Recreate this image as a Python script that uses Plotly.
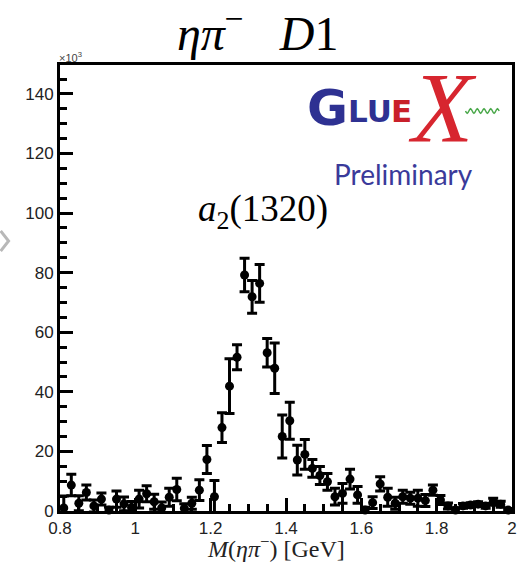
import plotly.graph_objects as go
import math

# ---------------- data ----------------
mass = [0.81, 0.83, 0.85, 0.87, 0.89, 0.91, 0.93, 0.95, 0.97, 0.99,
        1.01, 1.03, 1.05, 1.07, 1.09, 1.11, 1.13, 1.15, 1.17, 1.19,
        1.21, 1.23, 1.25, 1.27, 1.29, 1.31, 1.33, 1.35, 1.37, 1.39,
        1.41, 1.43, 1.45, 1.47, 1.49, 1.51, 1.53, 1.55, 1.57, 1.59,
        1.61, 1.63, 1.65, 1.67, 1.69, 1.71, 1.73, 1.75, 1.77, 1.79,
        1.81, 1.83, 1.85, 1.87, 1.89, 1.91, 1.93, 1.95, 1.97, 1.99]
counts = [1.0, 8.7, 2.6, 6.2, 1.7, 4.0, 0.3, 4.0, 2.4, 1.2,
          4.0, 5.8, 3.1, 1.0, 4.6, 7.2, 0.9, 2.6, 7.0, 17.3,
          4.8, 28.0, 41.9, 51.6, 79.2, 71.9, 76.4, 53.1, 47.9, 25.0,
          30.3, 17.1, 19.0, 14.3, 11.9, 9.8, 4.8, 5.9, 10.7, 5.4,
          0.3, 2.8, 9.1, 4.6, 2.6, 4.8, 4.3, 4.3, 3.5, 7.0,
          3.7, 1.7, 0.3, 1.7, 2.0, 2.3, 1.7, 3.1, 2.3, 0.3]
errors = [4.0, 3.6, 2.5, 2.5, 2.0, 2.0, 1.0, 2.7, 2.3, 2.0,
          3.0, 2.7, 2.5, 2.0, 3.0, 3.8, 1.5, 2.0, 3.5, 4.7,
          5.4, 5.0, 9.2, 4.2, 5.6, 5.5, 6.3, 4.8, 8.5, 7.2,
          6.2, 5.0, 5.0, 3.0, 3.0, 2.8, 2.8, 3.3, 3.3, 2.8,
          1.0, 2.0, 2.4, 3.0, 2.0, 2.2, 2.0, 2.7, 2.0, 1.7,
          1.5, 1.0, 0.8, 0.8, 0.8, 0.8, 0.8, 1.2, 1.0, 0.5]

x_ticks = [0.8, 1.0, 1.2, 1.4, 1.6, 1.8, 2.0]
x_tick_labels = ["0.8", "1", "1.2", "1.4", "1.6", "1.8", "2"]
y_ticks = [0, 20, 40, 60, 80, 100, 120, 140]
y_tick_labels = ["0", "20", "40", "60", "80", "100", "120", "140"]

W, H = 523, 564
L, R, T, B = 60, 6, 65, 53
PW, PH = W - L - R, H - T - B


def px(x):
    return (x - L) / PW


def py(y):
    return (H - B - y) / PH


fig = go.Figure()
fig.add_trace(go.Scatter(
    x=mass, y=counts, mode="markers",
    marker=dict(color="black", size=9),
    error_y=dict(type="data", array=errors, color="black", thickness=3, width=5),
    cliponaxis=False, showlegend=False,
))

tickfont = dict(family="Liberation Sans, Arial, sans-serif", size=17, color="#222")
fig.update_xaxes(
    range=[0.8, 2.0], tickvals=x_ticks, ticktext=x_tick_labels,
    ticks="inside", ticklen=13, tickwidth=2.5, tickcolor="black",
    minor=dict(dtick=0.05, tick0=0.8, ticks="inside", ticklen=7, tickwidth=2.5, tickcolor="black"),
    showline=True, linewidth=3, linecolor="black", mirror=True,
    showgrid=False, zeroline=False, tickfont=tickfont,
)
fig.update_yaxes(
    range=[0, 149.7], tickvals=y_ticks, ticktext=y_tick_labels,
    ticks="inside", ticklen=13, tickwidth=2.5, tickcolor="black",
    minor=dict(dtick=5, tick0=0, ticks="inside", ticklen=7, tickwidth=2.5, tickcolor="black"),
    showline=True, linewidth=3, linecolor="black", mirror=True,
    showgrid=False, zeroline=False, tickfont=tickfont,
)

annotations = [
    dict(text="<i>M</i>(<i>ηπ</i><sup>−</sup>) [GeV]", xref="paper", yref="paper",
         x=px(278), y=py(564), showarrow=False, xanchor="center", yanchor="bottom",
         font=dict(family="Liberation Serif, serif", size=24, color="#222")),
    dict(text="<i>ηπ</i><sup>−</sup>   <i>D</i>1", xref="paper", yref="paper",
         x=px(260), y=py(30), showarrow=False, xanchor="center", yanchor="middle",
         font=dict(family="Liberation Serif, serif", size=48, color="black")),
    dict(text="×10<sup>3</sup>", xref="paper", yref="paper",
         x=px(57), y=py(57), showarrow=False, xanchor="left", yanchor="middle",
         font=dict(family="Liberation Sans, Arial, sans-serif", size=11, color="#444")),
    dict(text="<i>a</i><sub>2</sub>(1320)", xref="paper", yref="paper",
         x=px(265), y=py(212), showarrow=False, xanchor="center", yanchor="middle",
         font=dict(family="Liberation Serif, serif", size=37, color="black")),
    # GlueX logo approximation
    dict(text="<b>G</b>", xref="paper", yref="paper",
         x=px(330), y=py(108), showarrow=False, xanchor="center", yanchor="middle",
         font=dict(family="DejaVu Sans, sans-serif", size=50, color="#2e3192")),
    dict(text="<b>LU</b>", xref="paper", yref="paper",
         x=px(373), y=py(111), showarrow=False, xanchor="center", yanchor="middle",
         font=dict(family="DejaVu Sans, sans-serif", size=31, color="#2e3192")),
    dict(text="<b>E</b>", xref="paper", yref="paper",
         x=px(405), y=py(111), showarrow=False, xanchor="center", yanchor="middle",
         font=dict(family="DejaVu Sans, sans-serif", size=31, color="#c8202a")),
    dict(text="<i>X</i>", xref="paper", yref="paper",
         x=px(447), y=py(107), showarrow=False, xanchor="center", yanchor="middle",
         font=dict(family="Liberation Serif, serif", size=100, color="#d7262f")),
    dict(text="Preliminary", xref="paper", yref="paper",
         x=px(407), y=py(174), showarrow=False, xanchor="center", yanchor="middle",
         font=dict(family="Lato, Open Sans, sans-serif", size=28, color="#3a3a9a")),
]

# green wavy line of logo (decoration)
wave_pts = []
for i in range(41):
    xx = 470 + i * 34 / 40
    yy = 111 + 2.2 * math.sin(i / 40 * 2 * math.pi * 5)
    wave_pts.append((px(xx), py(yy)))
wave_path = "M " + " L ".join(f"{a:.5f},{b:.5f}" for a, b in wave_pts)

shapes = [
    dict(type="path", xref="paper", yref="paper", path=wave_path,
         line=dict(color="#4aa84a", width=1.5)),
    dict(type="path", xref="paper", yref="paper",
         path=f"M {px(0):.5f},{py(231):.5f} L {px(8):.5f},{py(241):.5f} L {px(0):.5f},{py(251):.5f}",
         line=dict(color="#b8b8b8", width=3)),
]

fig.update_layout(
    width=W, height=H,
    margin=dict(l=L, r=R, t=T, b=B),
    paper_bgcolor="white", plot_bgcolor="white",
    annotations=annotations, shapes=shapes,
    showlegend=False,
)

fig.write_html("out.html")
